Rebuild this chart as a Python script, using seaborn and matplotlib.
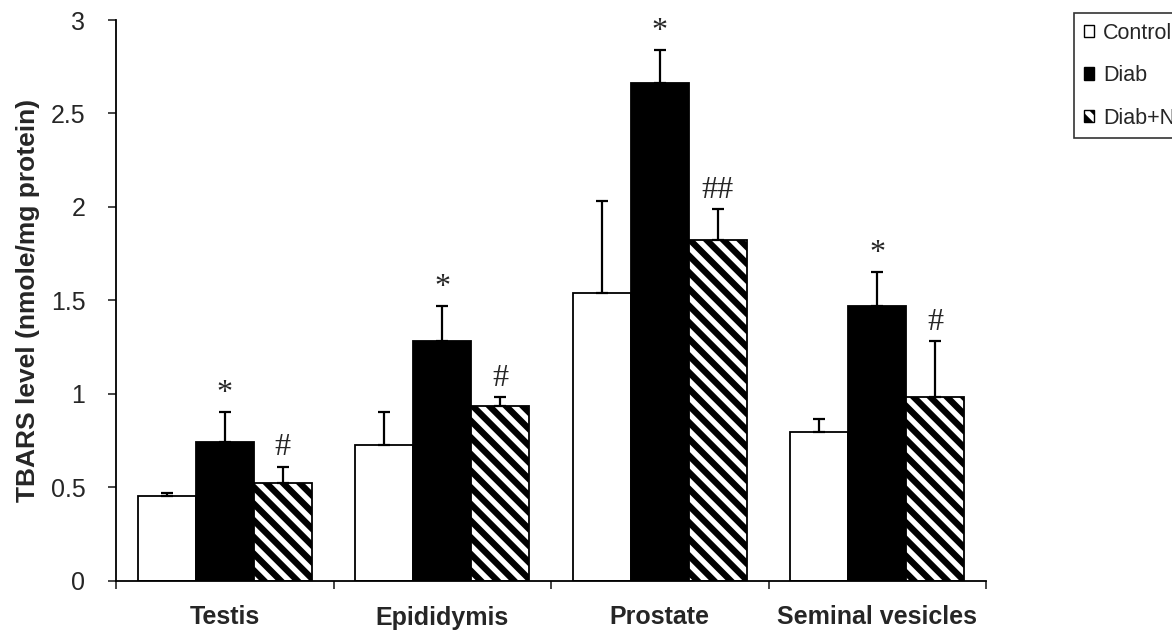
import numpy as np
import pandas as pd
import seaborn as sns
import matplotlib
matplotlib.use("Agg")
import matplotlib.pyplot as plt
from matplotlib.patches import Patch

# ---- data ----
tissues = ["Testis", "Epididymis", "Prostate", "Seminal vesicles"]
groups = ["Control", "Diab", "Diab+N"]
control = [0.45, 0.725, 1.54, 0.795]
diab = [0.74, 1.28, 2.665, 1.47]
diab_n = [0.52, 0.935, 1.82, 0.983]
control_err = [0.02, 0.175, 0.49, 0.07]
diab_err = [0.16, 0.19, 0.175, 0.18]
diab_n_err = [0.09, 0.048, 0.17, 0.30]
control_mark = ["", "", "", ""]
diab_mark = ["*", "*", "*", "*"]
diab_n_mark = ["#", "#", "##", "#"]
y_ticks = [0, 0.5, 1, 1.5, 2, 2.5, 3]
y_ticklabels = ["0", "0.5", "1", "1.5", "2", "2.5", "3"]
y_label = "TBARS level (nmole/mg protein)"

values = [control, diab, diab_n]
errors = [control_err, diab_err, diab_n_err]
marks = [control_mark, diab_mark, diab_n_mark]

df = pd.DataFrame({
    "tissue": tissues * 3,
    "group": [g for g in groups for _ in tissues],
    "value": control + diab + diab_n,
})

sns.set_style("white")
plt.rcParams["font.family"] = ["Liberation Sans", "DejaVu Sans"]
plt.rcParams["hatch.linewidth"] = 4.6
plt.rcParams["hatch.color"] = "black"

fig = plt.figure(figsize=(11.72, 6.3), dpi=100)
ax = fig.add_axes([116 / 1172, 1 - 580.5 / 630, (986 - 116) / 1172, (580.5 - 20) / 630])

palette = {"Control": "white", "Diab": "black", "Diab+N": "white"}
sns.barplot(data=df, x="tissue", y="value", hue="group", order=tissues,
            hue_order=groups, palette=palette, edgecolor="black", linewidth=1.3,
            errorbar=None, saturation=1, legend=False, width=0.8, ax=ax)

hatches = ["", "", "\\\\"]
bar_containers = list(ax.containers)
for ci, cont in enumerate(bar_containers):
    for j, bar in enumerate(cont.patches):
        bar.set_hatch(hatches[ci])
        bar.set_edgecolor("black")
        x = bar.get_x() + bar.get_width() / 2
        top = bar.get_height()
        err = errors[ci][j]
        ax.errorbar(x, top, yerr=[[0], [err]], fmt="none", ecolor="black",
                    elinewidth=1.6, capsize=4.5, capthick=1.6, zorder=3)
        m = marks[ci][j]
        if m:
            ax.annotate(m, (x, top + err), xytext=(0, 3), textcoords="offset points",
                        ha="center", va="bottom", fontsize=23,
                        family=["Liberation Serif", "DejaVu Serif"],
                        annotation_clip=False)

ax.set_xlim(-0.5, 3.5)
ax.set_ylim(0, 3)
ax.set_yticks(y_ticks)
ax.set_yticklabels(y_ticklabels, fontsize=18)
ax.set_ylabel(y_label, fontsize=19, fontweight="bold", labelpad=8)
ax.set_xlabel("")

# ticks at category boundaries, labels at centers
ax.set_xticks(np.arange(-0.5, len(tissues), 1.0))
ax.set_xticklabels([""] * (len(tissues) + 1))
ax.set_xticks(np.arange(len(tissues)), minor=True)
ax.set_xticklabels(tissues, minor=True, fontsize=18, fontweight="bold")
ax.tick_params(axis="x", which="major", direction="out", length=6, width=1.2, bottom=True)
ax.tick_params(axis="x", which="minor", length=0, pad=18)
ax.tick_params(axis="y", direction="out", length=6, width=1.2, left=True, pad=16)

for s in ["top", "right"]:
    ax.spines[s].set_visible(False)
for s in ["left", "bottom"]:
    ax.spines[s].set_color("black")
    ax.spines[s].set_linewidth(1.3)

handles = [Patch(facecolor=palette[g], edgecolor="black", hatch=hatches[i], linewidth=1)
           for i, g in enumerate(groups)]
leg = fig.legend(handles, groups, loc="upper left",
                 bbox_to_anchor=(1074 / 1172, 1 - 13 / 630), frameon=True,
                 fancybox=False, edgecolor="black", fontsize=15.5,
                 handlelength=0.5, handleheight=0.5, handletextpad=0.4,
                 labelspacing=1.0, borderpad=0.45, borderaxespad=0)
leg.get_frame().set_linewidth(1.2)

fig.savefig("out.png", dpi=100)
